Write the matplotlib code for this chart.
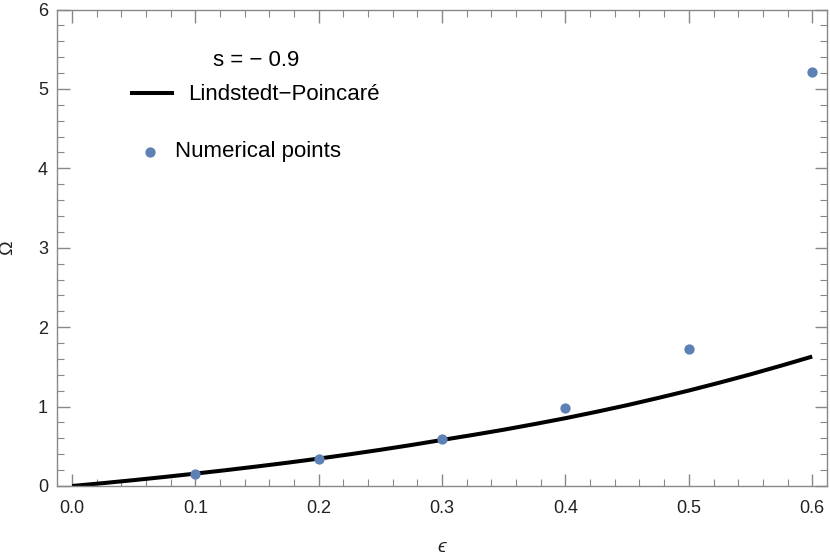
import matplotlib
matplotlib.use("Agg")
import matplotlib.pyplot as plt
from matplotlib.ticker import MultipleLocator, FormatStrFormatter

plt.rcParams['font.family'] = ['Liberation Sans', 'DejaVu Sans']

# Lindstedt-Poincare curve
eps_curve = [0.0, 0.025, 0.05, 0.075, 0.1, 0.125, 0.15, 0.175, 0.2, 0.225, 0.25, 0.275,
             0.3, 0.325, 0.35, 0.375, 0.4, 0.425, 0.45, 0.475, 0.5, 0.525, 0.55, 0.575, 0.6]
omega_curve = [0.0, 0.036, 0.074, 0.114, 0.156, 0.2, 0.246, 0.294, 0.345, 0.399, 0.456, 0.516,
               0.58, 0.643, 0.709, 0.78, 0.854, 0.934, 1.018, 1.108, 1.202, 1.302, 1.406, 1.516, 1.63]

# numerical points
eps_points = [0.1, 0.2, 0.3, 0.4, 0.5, 0.6]
omega_points = [0.15, 0.335, 0.59, 0.98, 1.73, 5.21]

W, H = 830, 555
fig = plt.figure(figsize=(W / 100, H / 100), dpi=100)
ax = fig.add_axes([57 / W, 1 - 486 / H, (827 - 57) / W, (486 - 9.5) / H])

line, = ax.plot(eps_curve, omega_curve, color='black', lw=2.9, solid_capstyle='butt', zorder=2)
dots = ax.scatter(eps_points, omega_points, s=55, color='#5E81B5', zorder=3, linewidths=0)

ax.set_xlim(-0.0122, 0.612)
ax.set_ylim(0, 6)
ax.xaxis.set_major_locator(MultipleLocator(0.1))
ax.xaxis.set_minor_locator(MultipleLocator(0.02))
ax.yaxis.set_major_locator(MultipleLocator(1))
ax.yaxis.set_minor_locator(MultipleLocator(0.2))
ax.xaxis.set_major_formatter(FormatStrFormatter('%.1f'))

frame = '#888888'
for sp in ax.spines.values():
    sp.set_color(frame)
    sp.set_linewidth(1.0)
ax.tick_params(which='both', direction='in', top=True, right=True, color=frame,
               labelsize=13, labelcolor='#222222')
ax.tick_params(which='major', length=9, width=1.0)
ax.tick_params(which='minor', length=5, width=0.8)
ax.tick_params(axis='x', which='major', pad=10)
ax.tick_params(axis='y', which='major', pad=6.5)

ax.set_xlabel('ϵ', fontsize=14, style='italic', color='#222222', va='center')
ax.set_ylabel('Ω', fontsize=14, color='#222222', va='center')
ax.xaxis.set_label_coords(0.5, -(548 - 486) / 476.5)
ax.yaxis.set_label_coords(-(57 - 8) / 770, 0.5)

# legend
fig.text(256 / W, 1 - 60 / H, 's = − 0.9', fontsize=16, ha='center', va='center')
leg1 = ax.legend([line], ['Lindstedt−Poincaré'], loc='center left',
                 bbox_to_anchor=(130 / W, 1 - 95 / H), bbox_transform=fig.transFigure,
                 frameon=False, borderpad=0, borderaxespad=0, fontsize=16,
                 handlelength=2.0, handletextpad=0.63)
ax.add_artist(leg1)
ax.legend([dots], ['Numerical points'], loc='center left',
          bbox_to_anchor=(139 / W, 1 - 152 / H), bbox_transform=fig.transFigure,
          frameon=False, borderpad=0, borderaxespad=0, fontsize=16,
          handlelength=1.0, handletextpad=0.6, scatterpoints=1)

fig.savefig('out.png', dpi=100)
